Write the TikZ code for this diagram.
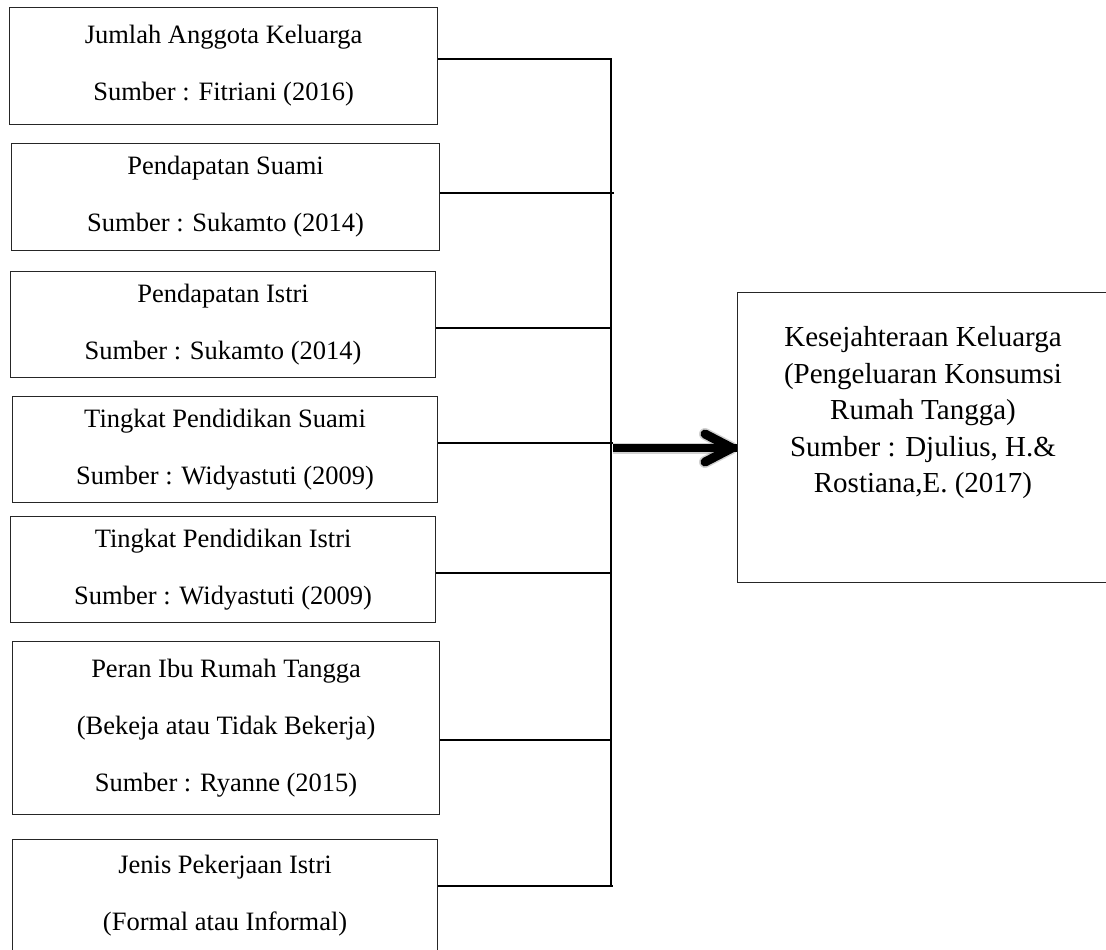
\documentclass[tikz,border=0pt]{standalone}
\usepackage{fontspec}
\setmainfont{Liberation Serif}
\usetikzlibrary{calc}
\begin{document}
\begin{tikzpicture}[x=1pt,y=-1pt,
  lbox/.style={draw=black!85, line width=1.2pt, rectangle, anchor=north west, inner sep=0pt,
    align=center, font=\fontsize{26.5}{57}\selectfont},
  conn/.style={draw=black, line width=2pt},
  rbox/.style={draw=black!85, line width=1.2pt, rectangle, anchor=north west, inner sep=0pt},
  rtext/.style={align=center, inner sep=0pt, font=\fontsize{29}{36.5}\selectfont},
  bigarrow/.style={line width=8pt, line cap=butt},
  chevron/.style={line width=9pt, line cap=round, line join=round}
]
\useasboundingbox (0,0) rectangle (1106,950);
\clip (0,0) rectangle (1106,950);

% left boxes
\node[lbox, minimum width=428pt, minimum height=117pt] (b1) at (9,7)
  {Jumlah Anggota Keluarga\\Sumber : Fitriani (2016)};
\node[lbox, minimum width=428pt, minimum height=107pt] (b2) at (11,143)
  {Pendapatan Suami\\Sumber : Sukamto (2014)};
\node[lbox, minimum width=425pt, minimum height=106pt] (b3) at (10,271)
  {Pendapatan Istri\\Sumber : Sukamto (2014)};
\node[lbox, minimum width=425pt, minimum height=106pt] (b4) at (12,396)
  {Tingkat Pendidikan Suami\\Sumber : Widyastuti (2009)};
\node[lbox, minimum width=425pt, minimum height=106pt] (b5) at (10,516)
  {Tingkat Pendidikan Istri\\Sumber : Widyastuti (2009)};
\node[lbox, minimum width=427pt, minimum height=173pt] (b6) at (12,641)
  {Peran Ibu Rumah Tangga\\(Bekeja atau Tidak Bekerja)\\Sumber : Ryanne (2015)};
\node[lbox, minimum width=425pt, minimum height=113pt] (b7) at (12,839)
  {Jenis Pekerjaan Istri\\(Formal atau Informal)};

% right box
\node[rbox, minimum width=372pt, minimum height=290pt] (kbox) at (737,292) {};
\node[rtext] (ktext) at (923,413)
  {Kesejahteraan Keluarga\\(Pengeluaran Konsumsi\\Rumah Tangga)\\Sumber : Djulius, H.\&\\Rostiana,E. (2017)};

% spine junctions
\coordinate (j1) at (611,59);
\coordinate (j2) at (614,193);
\coordinate (j3) at (611,328);
\coordinate (j4) at (613,443);
\coordinate (j5) at (611,573);
\coordinate (j6) at (611,740);
\coordinate (j7) at (613,886);

\draw[conn] (b1.east |- j1) -- (j1);
\draw[conn] (b2.east |- j2) -- (j2);
\draw[conn] (b3.east |- j3) -- (j3);
\draw[conn] (b4.east |- j4) -- (j4);
\draw[conn] (b5.east |- j5) -- (j5);
\draw[conn] (b6.east |- j6) -- (j6);
\draw[conn] (b7.east |- j7) -- (j7);
\draw[conn, line cap=rect] (611,59) -- (611,886);

% thick arrow with soft shadow
\coordinate (aS) at (613,448);
\coordinate (tip) at (732,448);
\begin{scope}[shift={(2,4)}, draw=black, opacity=0.18]
  \draw[bigarrow, line width=11pt] (aS) -- (tip);
  \draw[chevron, line width=12pt] ($(tip)+(-27,-14)$) -- (tip) -- ($(tip)+(-27,14)$);
\end{scope}
\draw[bigarrow] (aS) -- (kbox.west |- tip);
\draw[chevron] (tip) ++(-27,-14) -- (tip) -- ++(-27,14);
\end{tikzpicture}
\end{document}
